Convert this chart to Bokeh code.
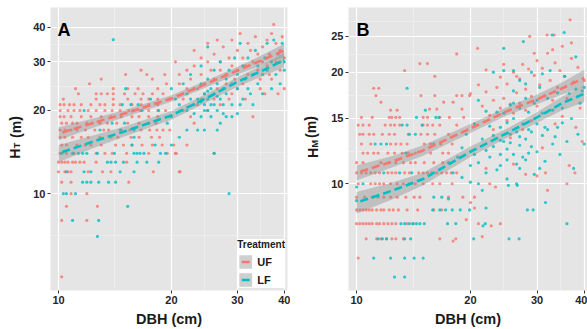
from bokeh.plotting import figure
from bokeh.models import Range1d, FixedTicker, PrintfTickFormatter, Label, Legend, LegendItem
from bokeh.layouts import row
from bokeh.embed import file_html
from bokeh.resources import INLINE
from bokeh.core.properties import value

UF_COLOR = "#F8766D"
LF_COLOR = "#00BFC4"
FONT = "Liberation Sans"

# ---------------- data: panel A (H_T) ----------------
a_uf = [
    (16.6, 28), (15.1, 27), (17.2, 27), (19.2, 27), (13.0, 26), (17.8, 26), (12.1, 25), (19.4, 25),
    (11.1, 24), (14.0, 24), (15.3, 24), (16.3, 24), (18.4, 24),
    (11.3, 23), (12.6, 23), (13.0, 23), (13.5, 23), (14.0, 23), (15.0, 23), (16.0, 23), (16.8, 23), (17.8, 23), (19.0, 23),
    (10.3, 22), (12.6, 22), (14.0, 22), (15.3, 22), (16.6, 22), (17.4, 22), (18.4, 22), (19.8, 22),
    (10.1, 21), (10.35, 21), (10.7, 21), (11.0, 21), (11.5, 21), (12.2, 21), (12.9, 21), (13.3, 21), (14.0, 21), (14.6, 21), (15.7, 21), (16.6, 21), (17.4, 21), (18.4, 21),
    (10.1, 20), (10.6, 20), (11.0, 20), (11.4, 20), (12.0, 20), (12.6, 20), (13.3, 20), (13.9, 20), (14.6, 20), (15.4, 20), (16.5, 20), (17.4, 20), (18.4, 20), (19.3, 20),
    (10.1, 19), (10.35, 19), (10.8, 19), (11.5, 19), (12.2, 19), (13.0, 19), (13.8, 19), (14.7, 19), (15.7, 19), (16.4, 19), (17.4, 19), (18.4, 19),
    (10.2, 18), (10.5, 18), (10.9, 18), (11.2, 18), (11.9, 18), (12.3, 18), (12.9, 18), (13.5, 18), (14.3, 18), (15.3, 18), (16.4, 18), (17.4, 18), (18.2, 18),
    (10.1, 17), (10.4, 17), (10.8, 17), (11.2, 17), (11.8, 17), (12.5, 17), (13.2, 17), (13.6, 17), (14.7, 17), (15.5, 17), (16.6, 17), (17.5, 17), (18.3, 17), (19.0, 17), (19.8, 17),
    (10.1, 16), (10.4, 16), (10.9, 16), (11.5, 16), (12.0, 16), (12.9, 16), (13.8, 16), (14.4, 16), (15.6, 16), (16.4, 16), (17.7, 16), (18.6, 16),
    (10.2, 15), (10.5, 15), (11.2, 15), (11.8, 15), (12.2, 15), (13.0, 15), (14.2, 15), (14.9, 15), (15.7, 15), (16.7, 15), (17.8, 15), (18.9, 15), (20.3, 15),
    (10.1, 14), (10.5, 14), (11.0, 14), (12.6, 14), (13.3, 14), (13.9, 14), (15.2, 14), (17.4, 14), (20.6, 14),
    (10.0, 13), (10.2, 13), (10.4, 13), (10.6, 13), (10.9, 13), (11.1, 13), (11.4, 13), (11.7, 13), (12.6, 13), (15.2, 13),
    (10.0, 12), (10.4, 12), (10.6, 12), (10.8, 12), (12.0, 12), (13.1, 12), (13.8, 12), (17.9, 12), (21.1, 12),
    (10.2, 11), (10.8, 11), (15.4, 11), (10.8, 10), (11.9, 10), (10.5, 9), (12.7, 9), (10.2, 8), (11.9, 8), (10.2, 5),
    (20.5, 30), (21.0, 25), (21.0, 27), (21.5, 22), (22.0, 28), (22.0, 24), (22.5, 26), (23.0, 33), (23.0, 29),
    (23.5, 21), (24.0, 31), (24.0, 27), (24.5, 25), (24.5, 23), (25.0, 30), (25.0, 35), (25.5, 28), (26.0, 26),
    (26.0, 32), (26.5, 24), (27.0, 30), (27.0, 28), (27.5, 34), (28.0, 27), (28.0, 25), (28.5, 31), (29.0, 36),
    (29.0, 29), (29.5, 26), (30.0, 33), (30.0, 28), (30.5, 38), (31.0, 31), (31.0, 25), (31.5, 29), (32.0, 35),
    (32.0, 27), (32.5, 33), (33.0, 30), (33.0, 19), (33.5, 37), (34.0, 28), (34.0, 32), (34.5, 26), (35.0, 34),
    (35.0, 30), (35.5, 23), (36.0, 36), (36.0, 29), (36.5, 32), (37.0, 26), (37.0, 38), (37.5, 41), (38.0, 30),
    (38.0, 35), (38.5, 23), (39.0, 33), (39.0, 28), (39.5, 37), (40.0, 31), (40.0, 24), (26.0, 14), (20.5, 14),
    (21.0, 12), (19.5, 14), (22.0, 15), (23.0, 18), (22.5, 19), (24.0, 22), (25.0, 20), (27.0, 21), (29.0, 23),
    (30.0, 24), (26.5, 36), (21.5, 20), (23.5, 24), (26.0, 22), (28.5, 22), (31.5, 22), (34.5, 24), (36.5, 27),
]
a_lf = [
    (14.0, 36.1), (15.1, 24), (17.6, 22), (14.8, 21), (15.6, 21), (16.3, 21),
    (11.7, 20), (15.8, 20), (16.7, 20), (18.5, 20), (13.9, 18), (15.0, 18), (12.9, 17), (14.6, 17), (15.9, 17),
    (15.9, 16), (15.7, 15), (18.1, 15),
    (10.2, 14), (10.9, 14), (11.3, 14), (11.6, 14), (11.9, 14), (12.7, 14), (14.1, 14), (15.9, 14), (16.2, 14), (16.5, 14), (16.9, 14), (18.7, 14), (19.3, 14),
    (13.5, 13), (13.8, 13), (14.2, 13), (14.9, 13), (16.2, 13), (17.2, 13), (18.5, 13),
    (10.5, 12), (11.7, 12), (12.2, 12), (14.6, 12), (15.9, 12),
    (11.6, 11), (11.9, 11), (12.2, 11), (12.8, 11), (13.6, 11), (14.2, 11),
    (10.3, 10), (10.5, 10), (11.1, 10), (15.3, 9), (10.9, 8), (12.8, 8), (12.7, 7),
    (20.0, 24), (20.5, 22), (20.0, 19), (21.0, 21), (21.5, 25), (22.0, 23), (22.0, 20), (22.5, 27), (23.0, 24),
    (23.0, 21), (23.5, 22), (24.0, 19), (24.0, 25), (24.0, 29), (24.5, 21), (24.5, 23), (25.0, 20), (25.0, 22),
    (25.0, 26), (25.0, 34), (25.5, 19), (25.5, 24), (26.0, 21), (26.0, 23), (26.0, 28), (26.5, 20), (26.5, 25),
    (27.0, 22), (27.0, 18), (27.0, 30), (27.5, 24), (27.5, 21), (28.0, 19), (28.0, 26), (28.0, 23), (28.5, 10),
    (28.5, 28), (29.0, 21), (29.0, 25), (29.5, 31), (30.0, 19.5), (30.0, 27), (30.0, 24), (30.5, 35), (31.0, 22),
    (31.0, 29), (31.5, 26), (32.0, 24), (32.0, 31), (33.0, 27), (33.0, 21), (33.5, 33), (34.0, 25), (34.0, 29),
    (35.0, 27), (35.0, 23), (35.5, 31), (36.0, 35), (36.0, 28), (37.0, 30), (37.0, 24), (37.5, 36), (38.0, 27),
    (38.5, 32), (39.0, 25), (39.0, 30), (39.5, 35), (40.0, 28), (40.0, 30), (22.0, 17), (21.0, 16), (23.5, 17),
    (26.0, 14), (19.5, 18), (20.0, 15), (24.5, 17), (26.5, 17), (23.0, 19.5), (24.5, 20), (25.5, 21), (26.5, 22.5),
    (27.5, 19.5), (29.0, 19), (24.0, 21.5), (25.0, 23.5), (22.5, 22), (30.5, 21), (32.5, 23),
]

# ---------------- data: panel B (H_M) ----------------
b_uf = [
    (10.1, 6.3),
    (10.6, 7.1), (11.3, 7.1), (11.6, 7.1), (12.0, 7.1), (12.4, 7.1), (12.7, 7.1), (13.3, 7.1), (16.6, 7.1), (18.3, 7.1),
    (10.0, 7.8), (10.2, 7.8), (10.4, 7.8), (10.6, 7.8), (10.8, 7.8), (11.0, 7.8), (11.3, 7.8), (11.5, 7.8), (11.8, 7.8), (12.1, 7.8), (12.4, 7.8), (12.7, 7.8), (13.6, 7.8), (14.1, 7.8), (21.0, 7.8),
    (10.0, 8.5), (10.2, 8.5), (10.4, 8.5), (10.6, 8.5), (10.8, 8.5), (11.0, 8.5), (11.3, 8.5), (11.6, 8.5), (11.8, 8.5), (12.2, 8.5), (12.5, 8.5), (12.9, 8.5), (13.6, 8.5), (14.5, 8.5), (16.0, 8.5), (16.8, 8.5),
    (10.0, 9.2), (10.5, 9.2), (11.0, 9.2), (11.4, 9.2), (11.8, 9.2), (12.3, 9.2), (12.8, 9.2), (13.5, 9.2), (14.2, 9.2), (14.7, 9.2), (17.5, 9.2), (19.1, 9.2), (20.5, 9.2),
    (10.1, 10), (10.9, 10), (11.2, 10), (11.5, 10), (11.8, 10), (12.3, 10), (12.8, 10), (13.3, 10), (13.8, 10), (14.3, 10), (15.0, 10), (15.9, 10), (16.6, 10), (17.9, 10), (22.5, 10),
    (10.0, 10.7), (10.3, 10.7), (10.6, 10.7), (10.9, 10.7), (11.2, 10.7), (11.5, 10.7), (12.1, 10.7), (12.4, 10.7), (12.7, 10.7), (13.4, 10.7), (13.8, 10.7), (14.6, 10.7), (15.0, 10.7), (15.4, 10.7), (15.8, 10.7), (16.3, 10.7), (16.8, 10.7), (17.3, 10.7), (17.8, 10.7), (18.4, 10.7),
    (10.0, 11.4), (10.4, 11.4), (11.6, 11.4), (12.2, 11.4), (12.7, 11.4), (13.3, 11.4), (13.9, 11.4), (14.3, 11.4), (15.1, 11.4), (16.0, 11.4), (16.9, 11.4),
    (10.4, 12.1), (10.7, 12.1), (11.1, 12.1), (11.4, 12.1), (12.1, 12.1), (12.6, 12.1), (13.2, 12.1), (13.7, 12.1), (14.3, 12.1), (15.7, 12.1), (16.9, 12.1), (17.5, 12.1),
    (10.3, 12.8), (10.9, 12.8), (12.3, 12.8), (12.7, 12.8), (13.1, 12.8), (13.6, 12.8), (15.1, 12.8), (15.7, 12.8), (16.7, 12.8), (17.9, 12.8),
    (10.2, 13.6), (10.4, 13.6), (10.8, 13.6), (11.1, 13.6), (11.7, 13.6), (12.2, 13.6), (12.6, 13.6), (13.7, 13.6), (14.8, 13.6), (15.4, 13.6), (16.1, 13.6), (17.5, 13.6),
    (10.1, 14.4), (10.4, 14.4), (10.8, 14.4), (11.9, 14.4), (12.3, 14.4), (12.6, 14.4), (13.0, 14.4), (15.0, 14.4), (15.4, 14.4), (15.9, 14.4), (16.6, 14.4), (18.4, 14.4),
    (10.3, 15.1), (11.0, 15.1), (12.2, 15.1), (12.4, 15.1), (12.7, 15.1), (13.0, 15.1), (15.0, 15.1), (15.4, 15.1), (16.6, 15.1), (17.6, 15.1), (19.2, 15.1),
    (12.3, 15.8), (12.8, 15.8), (15.6, 15.9), (16.3, 15.9), (19.0, 15.9), (11.6, 16.6), (17.0, 16.6), (18.0, 16.6),
    (11.25, 17.3), (14.8, 17.3), (16.1, 17.3), (18.4, 17.3), (19.0, 17.3), (19.9, 17.3),
    (11.1, 18.1), (11.45, 18.1), (16.1, 19.5), (13.4, 20.2), (14.7, 21.1), (15.4, 21.1), (18.4, 22.4),
    (20.9, 23.2), (20.0, 17.5), (21.0, 18.5), (21.5, 16.2), (22.0, 17.7), (22.5, 15.3), (23.0, 16.8), (23.5, 18.2),
    (24.0, 16.0), (24.0, 19.4), (24.5, 17.0), (25.0, 14.8), (25.0, 18.6), (25.5, 16.4), (26.0, 20.0), (26.0, 15.5),
    (26.5, 17.6), (27.0, 19.2), (27.0, 16.5), (27.5, 21.0), (28.0, 18.0), (28.0, 15.8), (28.7, 25.0), (28.5, 20.4),
    (29.0, 17.2), (29.5, 19.6), (30.0, 16.2), (30.0, 21.5), (30.5, 18.5), (31.0, 20.5), (31.5, 17.3), (31.9, 25.2),
    (32.0, 22.5), (32.5, 19.0), (33.0, 16.8), (33.3, 25.2), (33.5, 21.2), (34.0, 18.2), (34.5, 20.2), (35.0, 23.5),
    (35.0, 15.2), (35.5, 19.5), (36.0, 17.0), (36.7, 27.7), (37.0, 21.8), (37.5, 18.8), (38.0, 14.2), (38.5, 20.6),
    (39.0, 16.0), (39.5, 13.0), (40.0, 19.0), (36.5, 11.2), (31.0, 12.5), (28.0, 10.6), (26.0, 11.3), (22.0, 11.0),
    (20.0, 8.9), (20.5, 8.6), (19.5, 8.0), (23.3, 9.8), (24.0, 7.8), (21.5, 7.2), (22.7, 7.7), (27.5, 14.0),
    (29.0, 14.8), (33.5, 14.5), (30.0, 10.5), (25.5, 13.3), (23.0, 14.0), (32.0, 9.6), (18.0, 7.0), (31.6, 10.7),
    (37.8, 10.7), (36.0, 10.0), (22.0, 20.3), (24.5, 21.0), (26.5, 19.5), (29.5, 22.5), (33.0, 23.0), (37.0, 24.0),
]
b_lf = [
    (12.6, 5.6), (13.4, 5.6),
    (11.1, 6.3), (12.3, 6.3), (13.4, 6.3), (14.2, 6.3), (15.0, 6.3),
    (11.4, 7.1), (11.7, 7.1), (12.0, 7.1), (13.4, 7.1), (13.9, 7.1), (20.4, 7.1), (25.3, 7.1), (26.9, 7.1),
    (13.1, 7.8), (13.4, 7.8), (13.8, 7.8), (14.1, 7.8), (14.4, 7.8), (14.7, 7.8), (15.1, 7.8), (17.4, 7.8), (18.3, 7.8), (21.6, 7.7), (21.9, 7.8), (36.0, 7.8),
    (15.9, 8.5), (16.6, 8.5), (17.2, 8.5), (17.9, 8.5), (18.8, 8.5), (19.9, 8.5), (28.3, 8.5), (29.3, 8.5),
    (10.0, 9.0), (16.0, 9.2), (16.8, 9.2), (17.5, 9.1), (31.6, 8.9),
    (10.0, 9.8), (10.4, 10.0), (25.2, 9.9), (26.6, 9.9), (11.8, 10.7), (13.0, 10.7), (14.0, 10.7),
    (13.5, 12.1), (11.2, 12.8), (11.6, 12.8), (12.0, 12.8), (16.0, 12.8), (13.8, 13.6), (14.3, 13.6),
    (13.2, 14.4), (13.6, 14.4), (14.9, 14.4), (14.4, 15.1), (16.2, 15.1), (16.5, 15.1), (15.2, 15.8), (13.6, 18.1),
    (20.0, 11.2), (20.5, 12.0), (21.0, 11.4), (21.5, 13.2), (22.0, 12.3), (22.0, 10.7), (22.5, 11.8), (23.0, 13.5),
    (23.0, 12.6), (23.5, 10.9), (24.0, 14.2), (24.0, 12.0), (24.0, 11.2), (24.5, 13.0), (24.5, 15.5), (25.0, 12.4),
    (25.0, 14.6), (25.0, 11.6), (25.5, 16.3), (25.5, 13.6), (26.0, 12.0), (26.0, 15.0), (26.0, 17.8), (26.5, 11.3),
    (26.5, 13.8), (27.0, 12.7), (27.0, 16.0), (27.0, 19.0), (27.5, 11.8), (27.5, 14.5), (28.0, 13.2), (28.0, 17.0),
    (28.5, 12.1), (28.5, 15.6), (29.0, 20.0), (29.0, 13.8), (29.5, 10.6), (29.5, 16.5), (30.0, 14.5), (30.0, 12.2),
    (30.5, 18.2), (31.0, 13.5), (31.0, 15.5), (31.5, 11.5), (32.0, 17.0), (32.0, 14.0), (32.5, 20.2), (33.0, 12.8),
    (33.0, 15.8), (34.0, 14.2), (34.0, 17.6), (34.5, 12.0), (35.0, 16.0), (35.5, 19.5), (36.0, 13.0), (35.4, 25.6),
    (36.5, 17.5), (37.0, 15.0), (37.5, 11.0), (38.0, 18.0), (38.0, 22.0), (38.5, 13.6), (39.0, 16.5), (39.5, 17.8),
    (40.0, 12.8), (40.0, 18.2), (23.0, 20.0), (24.5, 20.2), (19.0, 12.5), (19.5, 13.6), (18.5, 11.8), (18.0, 10.7),
    (17.5, 11.4), (19.0, 10.4), (20.0, 10.1), (21.5, 9.6), (22.0, 8.6), (21.0, 10.0), (26.0, 20.2), (24.5, 23.2),
    (27.6, 24.2), (32.9, 25.2), (22.5, 14.3), (23.5, 15.6), (25.0, 10.3), (26.5, 10.0), (27.0, 11.0), (28.0, 11.6),
    (29.0, 12.6), (30.5, 11.0), (31.5, 14.2), (33.5, 13.4), (35.0, 14.6), (24.0, 13.1), (25.5, 12.9), (27.0, 13.4),
    (28.5, 14.0), (26.0, 16.5), (28.0, 18.6), (30.0, 16.8), (31.0, 19.8), (22.0, 15.7), (20.5, 14.5), (21.0, 16.8),
]

# ---------------- fitted curves with confidence ribbons ----------------
fit_dbh = [10, 12.5, 15, 20, 25, 30, 35, 40]
a_uf_fit = [16.5, 18.1, 19.5, 22.1, 25.1, 27.9, 30.5, 33.0]
a_uf_lo = [15.6, 17.4, 18.9, 21.5, 24.4, 27.0, 29.2, 31.2]
a_uf_hi = [17.4, 18.8, 20.1, 22.7, 25.8, 28.8, 31.8, 34.9]
a_lf_fit = [14.0, 15.5, 16.8, 19.2, 22.3, 25.4, 27.9, 30.5]
a_lf_lo = [13.0, 14.7, 16.1, 18.5, 21.5, 24.4, 26.6, 28.7]
a_lf_hi = [15.0, 16.3, 17.5, 19.9, 23.1, 26.4, 29.2, 32.4]
b_uf_fit = [10.7, 11.5, 12.3, 14.1, 15.7, 16.9, 18.1, 19.3]
b_uf_lo = [10.2, 11.1, 11.9, 13.7, 15.3, 16.4, 17.4, 18.3]
b_uf_hi = [11.2, 11.9, 12.7, 14.5, 16.1, 17.4, 18.8, 20.3]
b_lf_fit = [8.9, 9.6, 10.3, 12.2, 13.7, 15.1, 16.5, 17.5]
b_lf_lo = [8.3, 9.1, 9.9, 11.8, 13.3, 14.6, 15.8, 16.6]
b_lf_hi = [9.5, 10.1, 10.7, 12.6, 14.1, 15.6, 17.2, 18.4]

x_ticks = [10, 20, 30, 40]
x_minor = [14.14, 24.49, 34.64]
a_y_ticks = [10, 20, 30, 40]
a_y_minor = [7.07, 14.14, 24.49, 34.64]
b_y_ticks = [10, 15, 20, 25]
b_y_minor = [12.25, 17.32, 22.36, 27.39]

X_RANGE = (9.52, 40.8)
A_Y_RANGE = (4.46, 47.2)
B_Y_RANGE = (5.15, 29.9)
H = 329


def make_panel(width, left, right, y_range, y_ticks, y_minor):
    p = figure(width=width, height=H, x_axis_type="log", y_axis_type="log",
               x_range=Range1d(*X_RANGE), y_range=Range1d(*y_range),
               output_backend="svg", toolbar_location=None,
               min_border_left=left, min_border_right=right,
               min_border_top=7, min_border_bottom=38)
    p.background_fill_color = "#E5E5E5"
    p.border_fill_color = "white"
    p.outline_line_color = None
    xt = FixedTicker(ticks=x_ticks, minor_ticks=x_minor)
    yt = FixedTicker(ticks=y_ticks, minor_ticks=y_minor)
    p.xaxis.ticker = xt
    p.yaxis.ticker = yt
    p.xgrid.ticker = xt
    p.ygrid.ticker = yt
    for ax in (p.xaxis, p.yaxis):
        ax.formatter = PrintfTickFormatter(format="%d")
        ax.axis_line_color = None
        ax.major_tick_line_color = "#333333"
        ax.major_tick_out = 3
        ax.major_tick_in = 0
        ax.minor_tick_out = 0
        ax.minor_tick_in = 0
        ax.major_label_standoff = 2
        ax.major_label_text_font = FONT
        ax.major_label_text_font_style = "bold"
        ax.major_label_text_font_size = "11px"
        ax.major_label_text_color = "#262626"
    p.xaxis.axis_label = "DBH (cm)"
    p.xaxis.axis_label_text_font = FONT
    p.xaxis.axis_label_text_font_style = "bold"
    p.xaxis.axis_label_text_font_size = "14.5px"
    p.xaxis.axis_label_text_color = "#1a1a1a"
    p.xaxis.axis_label_standoff = 4
    for g in (p.xgrid, p.ygrid):
        g.grid_line_color = "white"
        g.grid_line_width = 1.2
        g.minor_grid_line_color = "#F2F2F2"
        g.minor_grid_line_width = 0.6
    return p


def draw(p, uf, lf, uf_fit, uf_lo, uf_hi, lf_fit, lf_lo, lf_hi):
    p.scatter([d for d, h in uf], [h for d, h in uf], size=3.2, fill_color=UF_COLOR,
              line_color=None, fill_alpha=0.8)
    p.scatter([d for d, h in lf], [h for d, h in lf], size=3.2, fill_color=LF_COLOR,
              line_color=None, fill_alpha=0.8)
    r_uf = p.varea(x=fit_dbh, y1=uf_lo, y2=uf_hi, fill_color="#8C8C8C", fill_alpha=0.42)
    r_lf = p.varea(x=fit_dbh, y1=lf_lo, y2=lf_hi, fill_color="#8C8C8C", fill_alpha=0.42)
    l_uf = p.line(fit_dbh, uf_fit, line_color=UF_COLOR, line_width=2.6, line_dash="8 4", line_dash_offset=8)
    l_lf = p.line(fit_dbh, lf_fit, line_color=LF_COLOR, line_width=2.6, line_dash="8 4", line_dash_offset=8)
    return r_uf, r_lf, l_uf, l_lf


def title_strip(width, items):
    # narrow text-only figure holding the rotated y-axis title (pixel coordinates)
    f = figure(width=width, height=H, x_range=Range1d(0, width), y_range=Range1d(0, H),
               x_axis_location=None, y_axis_location=None, toolbar_location=None,
               output_backend="svg", min_border_left=0, min_border_right=0,
               min_border_top=0, min_border_bottom=0)
    f.outline_line_color = None
    f.background_fill_color = "white"
    f.border_fill_color = "white"
    f.xgrid.grid_line_color = None
    f.ygrid.grid_line_color = None
    for x, y, txt, size in items:
        f.text(x=[x], y=[y], text=[txt], angle=1.5708, text_font=value(FONT),
               text_font_style="bold", text_font_size=value(size), text_color="#1a1a1a",
               text_align="center", text_baseline="middle")
    return f


def panel_letter(p, letter, y_top, dx):
    p.add_layout(Label(x=X_RANGE[0], y=y_top, x_offset=dx, y_offset=-12, text=letter,
                       text_font=FONT, text_font_style="bold", text_font_size="18px",
                       text_color="black", text_align="left", text_baseline="top"))


# ---------------- panel A ----------------
ta = title_strip(26, [(14, 159, "H", "14px"), (16.5, 168.5, "T", "9px"), (15, 190, "(m)", "14px")])
pa = make_panel(264, 24, 3, A_Y_RANGE, a_y_ticks, a_y_minor)
ra_uf, ra_lf, la_uf, la_lf = draw(pa, a_uf, a_lf, a_uf_fit, a_uf_lo, a_uf_hi, a_lf_fit, a_lf_lo, a_lf_hi)
panel_letter(pa, "A", A_Y_RANGE[1], 7)

legend = Legend(items=[LegendItem(label="UF", renderers=[ra_uf, la_uf]),
                       LegendItem(label="LF", renderers=[ra_lf, la_lf])],
                location="bottom_right", title="Treatment",
                title_text_font=FONT, title_text_font_style="bold", title_text_font_size="10px",
                title_text_color="#1a1a1a", title_standoff=3,
                label_text_font=FONT, label_text_font_style="bold", label_text_font_size="11px",
                label_text_color="#1a1a1a", label_standoff=4,
                glyph_width=16, glyph_height=17, spacing=1, padding=4, margin=2,
                background_fill_color="white", background_fill_alpha=1.0,
                border_line_color=None)
pa.add_layout(legend)

# ---------------- panel B ----------------
tb = title_strip(30, [(22, 160, "H", "14px"), (24, 170.5, "M", "9px"), (20, 190, "(m)", "14px")])
pb = make_panel(267, 28, 0, B_Y_RANGE, b_y_ticks, b_y_minor)
draw(pb, b_uf, b_lf, b_uf_fit, b_uf_lo, b_uf_hi, b_lf_fit, b_lf_lo, b_lf_hi)
panel_letter(pb, "B", B_Y_RANGE[1], 8)

layout = row(ta, pa, tb, pb)
open("out.html", "w").write(file_html(layout, INLINE))
